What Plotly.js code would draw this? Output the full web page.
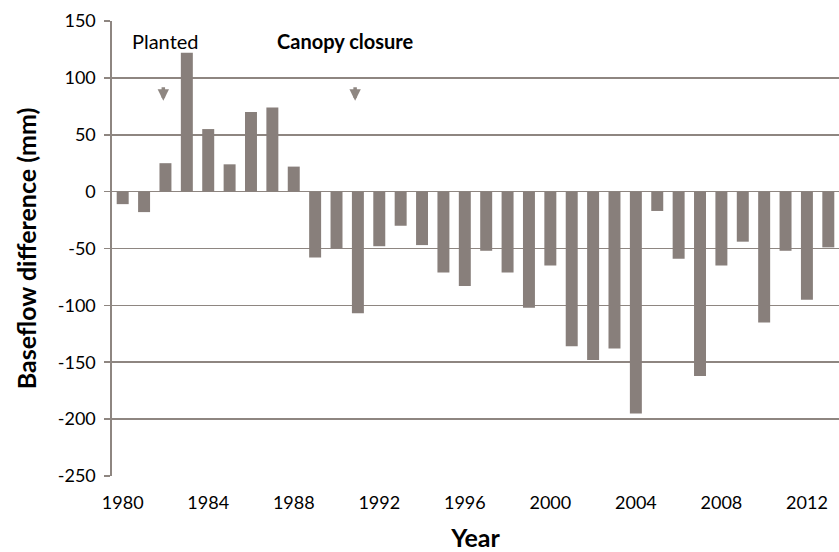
<!DOCTYPE html>
<html>
<head>
<meta charset="utf-8">
<script src="https://cdn.plot.ly/plotly-3.0.1.min.js"></script>
<style>html,body{margin:0;padding:0;background:#fff;}#chart{width:839px;height:552px;}</style>
</head>
<body>
<div id="chart"></div>
<script>
const years = [1980,1981,1982,1983,1984,1985,1986,1987,1988,1989,1990,1991,1992,1993,1994,1995,1996,1997,1998,1999,2000,2001,2002,2003,2004,2005,2006,2007,2008,2009,2010,2011,2012,2013];
const baseflowDiff = [-11,-18,25,122,55,24,70,74,22,-58,-50,-107,-48,-30,-47,-71,-83,-52,-71,-102,-65,-136,-148,-138,-195,-17,-59,-162,-65,-44,-115,-52,-95,-49];
const xTickVals = [1980,1984,1988,1992,1996,2000,2004,2008,2012];
const yTickVals = [-250,-200,-150,-100,-50,0,50,100,150];
const yTickText = ["-250","-200","-150","-100","-50","0","50","100","150"];
const eventLabels = ["Planted","Canopy closure"];
const eventYears = [1982,1991];

const FONT = "Lato, 'Open Sans', sans-serif";
const GRID = '#8e8681';

Plotly.newPlot('chart', [{
  type: 'bar',
  x: years,
  y: baseflowDiff,
  marker: {color: '#887f7b'},
  width: 0.56,
  hoverinfo: 'x+y'
}], {
  width: 839, height: 552,
  margin: {l: 112, r: 0, t: 21, b: 76},
  paper_bgcolor: '#fff', plot_bgcolor: '#fff',
  showlegend: false,
  font: {family: FONT, color: '#000', size: 18},
  xaxis: {
    range: [1979.5, 2013.5],
    tickvals: xTickVals,
    ticktext: xTickVals.map(String),
    showgrid: false, zeroline: false, showline: false,
    ticks: 'outside', ticklen: 10, tickcolor: 'rgba(0,0,0,0)',
    tickfont: {family: FONT, size: 18},
    title: {text: 'Year', font: {family: FONT, size: 25, weight: 'bold'}, standoff: 17}
  },
  yaxis: {
    range: [-250, 150],
    tickvals: yTickVals,
    ticktext: yTickText,
    showgrid: true, gridcolor: GRID, gridwidth: 1.6,
    zeroline: false,
    showline: true, linecolor: GRID, linewidth: 1.6,
    ticks: 'outside', ticklen: 6, tickcolor: GRID, tickwidth: 1.6,
    ticklabelstandoff: 5,
    tickfont: {family: FONT, size: 18},
    title: {text: 'Baseflow difference (mm)', font: {family: FONT, size: 25, weight: 'bold'}, standoff: 14}
  },
  annotations: [
    {x: 1981.99, y: 132, xref: 'x', yref: 'y', text: eventLabels[0], showarrow: false,
     font: {family: FONT, size: 20, color: '#000'}},
    {x: 1990.4, y: 132, xref: 'x', yref: 'y', text: eventLabels[1], showarrow: false,
     font: {family: FONT, size: 20, color: '#000', weight: 'bold'}},
    {x: eventYears[0] - 0.1, y: 80, xref: 'x', yref: 'y', text: '', showarrow: true,
     ax: 0, ay: -15, arrowhead: 2, arrowsize: 0.65, arrowwidth: 3.5, arrowcolor: '#8e8681'},
    {x: eventYears[1] - 0.13, y: 80, xref: 'x', yref: 'y', text: '', showarrow: true,
     ax: 0, ay: -15, arrowhead: 2, arrowsize: 0.65, arrowwidth: 3.5, arrowcolor: '#8e8681'}
  ]
}, {staticPlot: true});
</script>
</body>
</html>
